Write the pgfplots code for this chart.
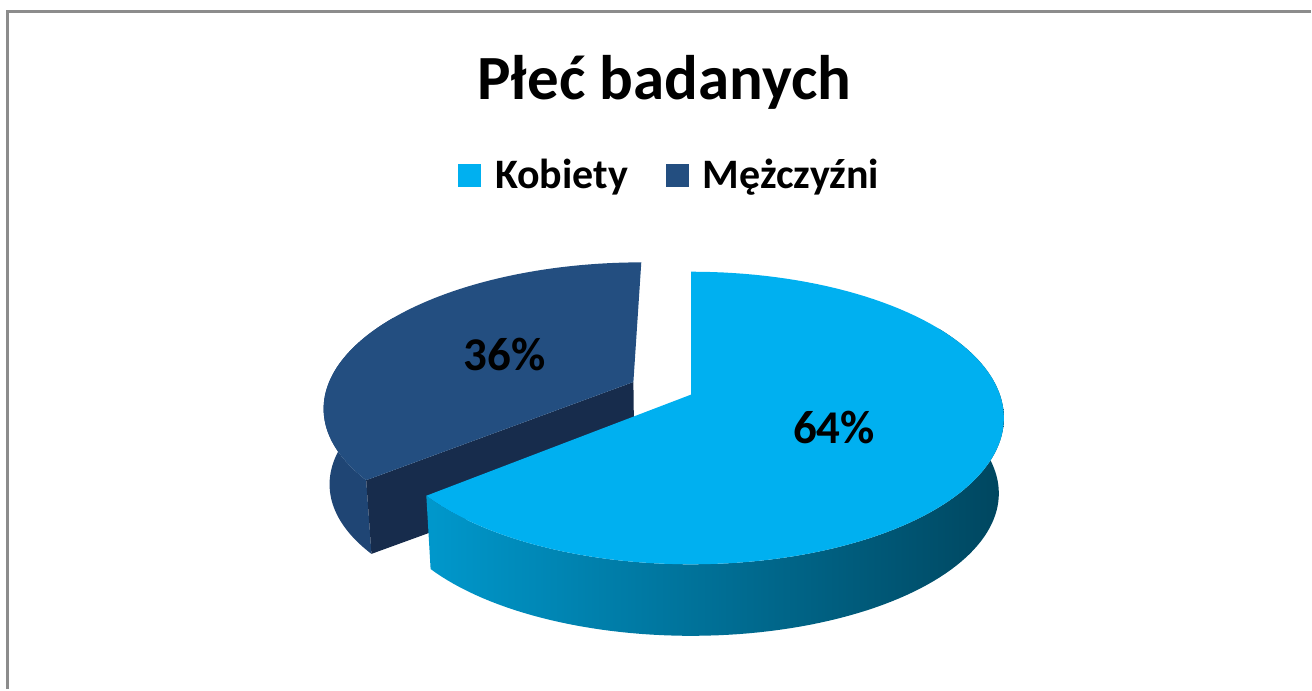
\documentclass[border=0pt]{standalone}
\usepackage{fontspec}
\setmainfont{Carlito}
\usepackage{pgfplots}
\pgfplotsset{compat=1.18}
\definecolor{kTop}{HTML}{00B0F0}
\definecolor{kL}{HTML}{0098CC}
\definecolor{kM}{HTML}{006C92}
\definecolor{kR}{HTML}{00465F}
\definecolor{mTop}{HTML}{234E80}
\definecolor{mSide}{HTML}{1F4574}
\definecolor{mCut}{HTML}{172C4C}
\definecolor{frameGray}{HTML}{8C8C8C}

% data (percent)
\def\valK{64}
\def\valM{36}
\pgfmathsetmacro{\aK}{90-3.6*\valK}
\pgfmathsetmacro{\aM}{90+3.6*\valM}
\pgfmathsetmacro{\aMid}{90+1.8*\valM}
\pgfmathsetmacro{\eu}{0.21*cos(\aMid)}
\pgfmathsetmacro{\ev}{0.21*sin(\aMid)}

\begin{document}
\begin{tikzpicture}
\begin{axis}[
  scale only axis, width=656pt, height=345pt,
  xmin=0, xmax=1312, ymin=0, ymax=690,
  hide axis, clip=false,
  legend columns=2,
  legend style={at={(0.5118,0.745)}, anchor=center, draw=none, fill=none,
    font=\bfseries\fontsize{21}{25}\selectfont,
    /tikz/every odd column/.append style={column sep=5pt},
    /tikz/every even column/.append style={column sep=17pt}},
  legend image code/.code={\fill[#1] (0pt,-5.75pt) rectangle (11.5pt,5.75pt);},
  declare function={
    PX(\a,\r,\L,\p,\q)=692+(309-5*\L)*(\r*cos(\a)+\p)/(1+0.1604*(\r*sin(\a)+\q));
    PY(\a,\r,\L,\p,\q)=295-76*\L+(142.7-3.7*\L)*(\r*sin(\a)+\q)/(1+0.1604*(\r*sin(\a)+\q));
    bang(\s,\a,\b)=(\s<1.005)?(\a+(\b-\a)*min(\s,1)):(\b-(\b-\a)*(\s-1.01));
    blev(\s)=(\s<1.005)?0:1;
    tang(\s,\a,\b)=\a+(\b-\a)*min(\s,1);
    trad(\s)=(\s<1.005)?1:0;
    crad(\s)=((\s>0.5)&&(\s<2.5))?1:0;
    clev(\s)=(\s>1.5)?1:0;
  },
]
\path (axis cs:0,0) rectangle (axis cs:1312,690);
% frame
\draw[frameGray, line width=1.5pt] (axis cs:7.5,0) -- (axis cs:7.5,678.5) -- (axis cs:1312,678.5);

% title
\node[anchor=base, font=\bfseries\fontsize{31.5}{36}\selectfont] at (axis cs:665,590) {Płeć badanych};

% Mezczyzni: curved side
\addplot[forget plot, draw=none, fill=mSide, domain=0:2.01, samples=202]
  ({PX(bang(x,150,\aM),1,blev(x),\eu,\ev)},{PY(bang(x,150,\aM),1,blev(x),\eu,\ev)});
% Mezczyzni: cut face
\addplot[forget plot, draw=none, fill=mCut, samples at={0,1,2,3}]
  ({PX(\aM,crad(x),clev(x),\eu,\ev)},{PY(\aM,crad(x),clev(x),\eu,\ev)});
% Mezczyzni: top
\addplot[forget plot, draw=none, fill=mTop, domain=0:1.01, samples=102]
  ({PX(tang(x,90,\aM),trad(x),0,\eu,\ev)},{PY(tang(x,90,\aM),trad(x),0,\eu,\ev)});

% Kobiety: curved side
\addplot[forget plot, draw=none, left color=kL, middle color=kM, right color=kR, domain=0:2.01, samples=202]
  ({PX(bang(x,\aK,30),1,blev(x),0,0)},{PY(bang(x,\aK,30),1,blev(x),0,0)});
% Kobiety: top
\addplot[forget plot, draw=none, fill=kTop, domain=0:1.01, samples=102]
  ({PX(tang(x,\aK,90),trad(x),0,0,0)},{PY(tang(x,\aK,90),trad(x),0,0,0)});

\addlegendimage{fill=kTop, draw=none}
\addlegendentry{Kobiety}
\addlegendimage{fill=mTop, draw=none}
\addlegendentry{Mężczyźni}

\node[font=\bfseries\fontsize{23.5}{28}\selectfont] at (axis cs:505,335) {36\%};
\node[font=\bfseries\fontsize{23.5}{28}\selectfont] at (axis cs:835,262) {64\%};
\end{axis}
\end{tikzpicture}
\end{document}
